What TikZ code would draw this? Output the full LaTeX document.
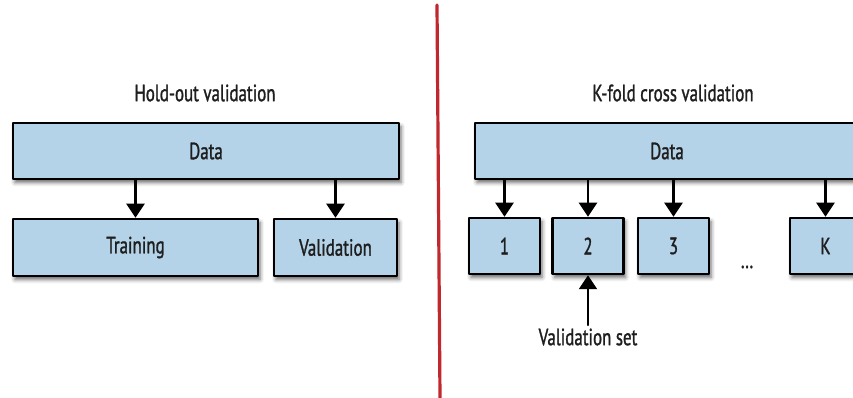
\documentclass[tikz,border=0pt]{standalone}
\usepackage{fontspec}
\setmainfont{PT Sans}[FakeStretch=0.72, FakeBold=1.2]
\usetikzlibrary{arrows.meta, shadows.blur}
\definecolor{boxblue}{HTML}{B4D3E8}
\definecolor{divred}{HTML}{C0282D}
\definecolor{inkdark}{HTML}{1E1E1E}

\begin{document}
\begin{tikzpicture}[x=1pt, y=1pt, line cap=round, line join=round,
	font=\fontsize{23.5}{25}\selectfont, text=inkdark,
	part/.style={draw=black, line width=2.5pt, fill=boxblue, inner sep=0pt,
		blur shadow={shadow xshift=2pt, shadow yshift=-3.5pt, shadow blur radius=4pt, shadow opacity=60}},
	arr/.style={-{Triangle[width=18pt, length=14pt]}, line width=2.4pt, draw=black}]
	
	\useasboundingbox (0,0) rectangle (853,398);
	\clip (0,0) rectangle (853,398);
	
	% ===== divider =====
	\draw[divred, line width=3.2pt] (437,393) -- (440,0);
	
	% ===== Left: hold-out validation =====
	\begin{scope}
		\node (holdtitle) at (205,305) {Hold-out validation};
		\node[part, minimum width=386, minimum height=56] (hdata) at (206,247) {Data};
		\node[part, minimum width=245, minimum height=57] (train) at (135.5,150.5) {Training};
		\node[part, minimum width=123, minimum height=57] (valid) at (335.5,150.5) {Validation};
		% splits
		\draw[arr] (train.north |- hdata.south) -- (train.north);
		\draw[arr] (valid.north |- hdata.south) -- (valid.north);
	\end{scope}
	
	% ===== Right: K-fold cross validation =====
	\begin{scope}
		\node (kfoldtitle) at (673,305) {K-fold cross validation};
		\node[part, minimum width=384, minimum height=56] (kdata) at (667,247) {Data};
		% folds
		\foreach \name/\x/\lbl in {f1/504.5/1, f2/588/2, f3/673.5/3, fk/825.5/K}{
			\node[part, minimum width=71, minimum height=56] (\name) at (\x,152) {\lbl};
			\draw[arr] (\name.north |- kdata.south) -- (\name.north);
		}
		\node (dots) at (747,131) {\dots};
		% held-out fold
		\node (vset) at (588,61) {Validation set};
		\draw[arr] (f2.south |- vset.north) -- (f2.south);
	\end{scope}
	
\end{tikzpicture}
\end{document}
